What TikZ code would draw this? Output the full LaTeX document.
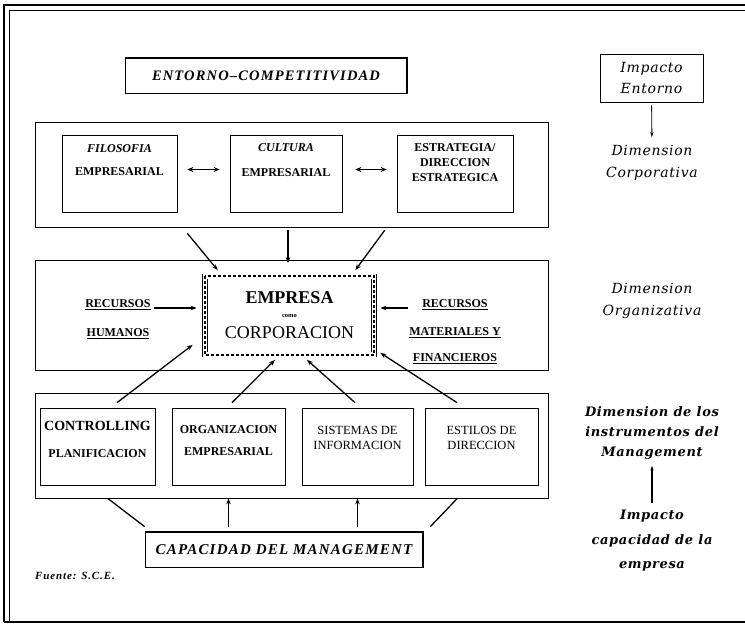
\documentclass[tikz,border=0pt]{standalone}
\usepackage{fontspec}
\setmainfont{Liberation Serif}
\newfontfamily\sidefont[LetterSpace=5]{DejaVu Serif}
\newfontfamily\widefont[LetterSpace=8]{Liberation Serif}
\usetikzlibrary{arrows.meta}

\tikzset{
  box/.style={draw, line width=0.7pt, inner sep=0pt},
  lbl/.style={anchor=north, align=center, inner sep=0pt, font=\bfseries\fontsize{12}{23}\selectfont},
  slab/.style={draw, line width=0.7pt, inner sep=0pt, font=\widefont\bfseries\itshape\fontsize{14.5}{14.5}\selectfont},
  empbox/.style={draw, line width=0.7pt, double, double distance=4.5pt, inner sep=0pt, align=center, font=\fontsize{18}{18}\selectfont},
  rec/.style={align=center, inner sep=0pt, font=\bfseries\fontsize{12}{29}\selectfont},
  side/.style={align=center, inner sep=0pt, font=\sidefont\itshape\fontsize{14}{22}\selectfont},
  arr/.style={-{Stealth[length=6pt,width=4.5pt]}, line width=1.3pt},
  dbl/.style={{Stealth[length=6pt,width=5pt]}-{Stealth[length=6pt,width=5pt]}, line width=1.7pt},
  thinarr/.style={-{Stealth[length=5pt,width=3pt]}, line width=0.9pt}
}

\begin{document}
\begin{tikzpicture}[x=1pt,y=-1pt]
\useasboundingbox (0,0) rectangle (745,628);
\draw[line width=1.2pt] (4,622) -- (4,5) -- (745,5);
\draw[line width=0.6pt] (9,622) -- (9,10) -- (745,10);
\draw[line width=1.6pt] (4,622) -- (745,622);

\node[slab, minimum width=282, minimum height=35] (entorno) at (266,75.5) {ENTORNO–COMPETITIVIDAD};
\node[box, side, minimum width=103, minimum height=48, font=\sidefont\itshape\fontsize{14}{21}\selectfont] (impacto) at (651.5,78) {Impacto\\Entorno};
\node[side] (dimcorp) at (652,163) {Dimension\\Corporativa};
\draw[thinarr, shorten <=3pt, shorten >=8pt] (impacto) -- (dimcorp);

\node[box, minimum width=513, minimum height=105] (corp) at (291.5,174.5) {};
\node[box, minimum width=115, minimum height=77, label={[lbl, yshift=-10pt]north:{\itshape FILOSOFIA}\\EMPRESARIAL}] (filosofia) at (119.5,173.5) {};
\node[box, minimum width=112, minimum height=77, label={[lbl, yshift=-9pt, font=\bfseries\fontsize{12}{25}\selectfont]north:{\itshape CULTURA}\\EMPRESARIAL}] (cultura) at (286,173.5) {};
\node[box, minimum width=116, minimum height=77, label={[lbl, yshift=-9pt, font=\bfseries\fontsize{12}{15}\selectfont]north:ESTRATEGIA/\\DIRECCION\\ESTRATEGICA}] (estrategia) at (455,173.5) {};
\draw[dbl] ([shift={(10,-4)}]filosofia.east) -- ([shift={(-10,-4)}]cultura.west);
\draw[dbl] ([shift={(13,-4)}]cultura.east) -- ([shift={(-10,-4)}]estrategia.west);

\node[box, minimum width=513, minimum height=110] (org) at (291.5,315) {};
\node[empbox, minimum width=169, minimum height=78] (empresa) at (289.5,315.5) {\bfseries EMPRESA\\[-4.5pt]{\bfseries\fontsize{6.5}{6.5}\selectfont como}\\[3.5pt]CORPORACION};
\draw[line width=2pt, dash pattern=on 3pt off 2pt] (empresa.north west) rectangle (empresa.south east);
\node[rec] (rhum) at (118,319) {\underline{RECURSOS}\\\underline{HUMANOS}};
\node[rec, font=\bfseries\fontsize{12}{28}\selectfont] (rmat) at (455,331.5) {\underline{RECURSOS}\\\underline{MATERIALES Y}\\[-2pt]\underline{FINANCIEROS}};
\node[side] (dimorg) at (652,300.5) {Dimension\\Organizativa};
\draw[arr] ([shift={(3,-11)}]rhum.east) -- ([shift={(-8,-7.5)}]empresa.west);
\draw[arr] ([shift={(-1,-23.5)}]rmat.west) -- ([shift={(6,-7.5)}]empresa.east);

\draw[arr] ([shift={(10,21)}]filosofia.south east) -- ([shift={(13,-6)}]empresa.north west);
\draw[arr] ([shift={(2,18)}]cultura.south) -- ([shift={(-1.5,-13)}]empresa.north);
\draw[arr] ([shift={(-12,18)}]estrategia.south west) -- ([shift={(-19,-6)}]empresa.north east);

\node[box, minimum width=513, minimum height=105] (instr) at (291.5,445.5) {};
\node[box, minimum width=115, minimum height=77, label={[lbl, yshift=-13pt, font=\bfseries\fontsize{12}{27}\selectfont]north:{\fontsize{14}{14}\selectfont CONTROLLING}\\PLANIFICACION}] (controlling) at (97.5,446.5) {};
\node[box, minimum width=113, minimum height=77, label={[lbl, yshift=-18pt, font=\bfseries\fontsize{12}{22}\selectfont]north:ORGANIZACION\\EMPRESARIAL}] (organizacion) at (228.5,446.5) {};
\node[box, minimum width=111, minimum height=77, label={[lbl, yshift=-18pt, font=\fontsize{12.5}{15}\selectfont]north:SISTEMAS DE\\INFORMACION}] (sistemas) at (357.5,446.5) {};
\node[box, minimum width=113, minimum height=77, label={[lbl, yshift=-18pt, font=\fontsize{12.5}{15}\selectfont]north:ESTILOS DE\\DIRECCION}] (estilos) at (481.5,446.5) {};
\node[side, font=\sidefont\bfseries\itshape\fontsize{13}{20}\selectfont] (diminst) at (652,433) {Dimension de los\\instrumentos del\\Management};

\draw[arr] ([shift={(19.5,-5)}]controlling.north) -- ([shift={(-12,-10)}]empresa.south west);
\draw[arr] ([shift={(3.5,-5)}]organizacion.north) -- ([shift={(-14.5,5)}]empresa.south);
\draw[arr] ([shift={(-2.5,-5)}]sistemas.north) -- ([shift={(17.5,5)}]empresa.south);
\draw[arr] ([shift={(-24.5,-5)}]estilos.north) -- ([shift={(6,-2)}]empresa.south east);

\node[slab, minimum width=278, minimum height=35, font=\widefont\bfseries\itshape\fontsize{15}{15}\selectfont] (capacidad) at (284,549.5) {CAPACIDAD DEL MANAGEMENT};
\foreach \n in {entorno,capacidad}
  \draw[line width=2pt] (\n.south east) -- (\n.north east) -- (\n.north west);
\draw[line width=1.3pt] ([shift={(0,-5)}]capacidad.north west) -- ([shift={(73,0)}]instr.south west);
\draw[arr] ([yshift=5pt]capacidad.north -| organizacion.south) -- (organizacion.south |- instr.south);
\draw[arr] ([yshift=5pt]capacidad.north -| sistemas.south) -- (sistemas.south |- instr.south);
\draw[line width=1.3pt] ([shift={(7,-5)}]capacidad.north east) -- ([shift={(-91,0)}]instr.south east);

\node[side, font=\sidefont\bfseries\itshape\fontsize{13}{24.5}\selectfont] (impcap) at (652,541) {Impacto\\capacidad de la\\empresa};
\draw[thinarr, line width=1.3pt, shorten <=7pt, shorten >=6pt] (impcap) -- (diminst);

\node[anchor=west, inner sep=0pt, font=\widefont\bfseries\itshape\fontsize{11}{11}\selectfont] (fuente) at (35,576) {Fuente: S.C.E.};
\end{tikzpicture}
\end{document}
